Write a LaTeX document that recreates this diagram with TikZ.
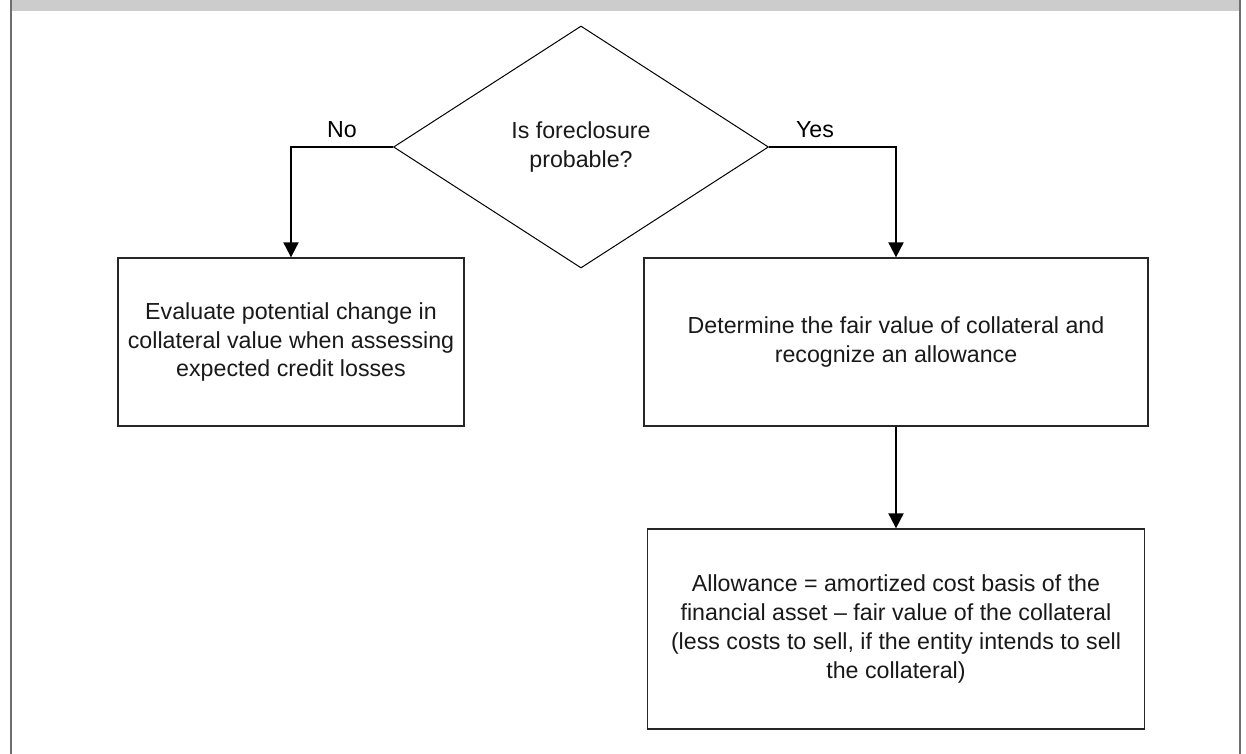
\documentclass[tikz,border=0pt]{standalone}
\usepackage{fontspec}
\setmainfont{Liberation Sans}
\usetikzlibrary{shapes.geometric,arrows.meta}

\definecolor{framegray}{HTML}{6E6E6E}
\definecolor{bargray}{HTML}{CCCCCC}

\tikzset{
  flowtext/.style={font=\fontsize{23.2}{28.8}\selectfont, align=center, text=black!90},
  procbox/.style={draw=black!85, line width=1.3pt, rectangle, inner sep=0pt, flowtext},
  decision/.style={draw=black, line width=1pt, diamond, inner sep=0pt, flowtext},
  flowarrow/.style={draw=black, line width=2pt, -{Triangle[length=15pt,width=15pt]}},
  branchlabel/.style={font=\fontsize{23.2}{28}\selectfont, anchor=base, inner sep=0pt}
}

\begin{document}
\begin{tikzpicture}[x=1pt,y=-1pt]
  \useasboundingbox (0,0) rectangle (1246,754);

  % page frame: grey header bar and side rules
  \fill[bargray] (11,0) rectangle (1239,11);
  \draw[framegray, line width=2pt] (11,0) -- (11,754);
  \draw[framegray, line width=2pt] (1239.5,0) -- (1239.5,754);

  % decision
  \node[decision, minimum width=375pt, minimum height=242pt] (dec) at (581,147)
    {Is foreclosure\\probable?};

  % outcomes
  \node[procbox, minimum width=346pt, minimum height=168pt] (lbox) at (291,342)
    {Evaluate potential change in\\collateral value when assessing\\expected credit losses};
  \node[procbox, minimum width=504pt, minimum height=168pt] (rbox) at (896,342)
    {Determine the fair value of collateral and\\recognize an allowance};
  \node[procbox, minimum width=497pt, minimum height=200pt] (bbox) at (896,629)
    {Allowance = amortized cost basis of the\\financial asset \textendash{} fair value of the collateral\\(less costs to sell, if the entity intends to sell\\the collateral)};

  % branch labels
  \node[branchlabel] (nolbl) at (342,138) {No};
  \node[branchlabel] (yeslbl) at (815,138) {Yes};

  % connectors
  \draw[flowarrow] (dec.west) -| (lbox.north);
  \draw[flowarrow] (dec.east) -| (rbox.north);
  \draw[flowarrow] (rbox.south) -- (bbox.north);
\end{tikzpicture}
\end{document}
